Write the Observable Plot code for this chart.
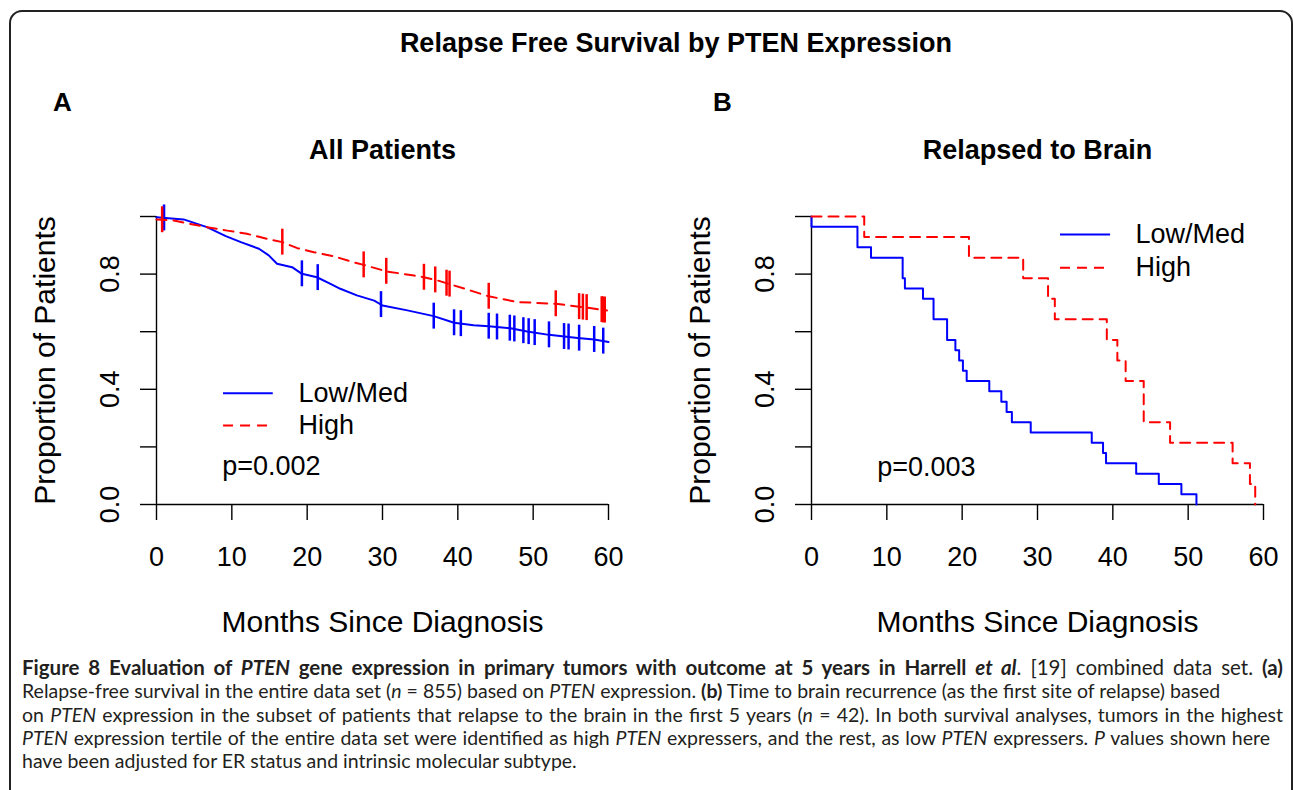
<!DOCTYPE html>
<html><head><meta charset="utf-8">
<script src="https://cdn.jsdelivr.net/npm/d3@7"></script>
<script src="https://cdn.jsdelivr.net/npm/@observablehq/plot@0.6"></script>
<style>
html,body{margin:0;padding:0;background:#fff;width:1293px;height:790px;overflow:hidden;position:relative;font-family:"Liberation Sans",Arial,sans-serif;}
#frame{position:absolute;left:9px;top:10px;width:1284px;height:900px;border:2px solid #222;border-radius:13px;box-sizing:border-box;}
#title{position:absolute;left:276px;width:800px;top:27px;line-height:32px;text-align:center;font-weight:bold;font-size:27px;color:#000;}
#panelA{position:absolute;left:0;top:60px;}
#panelB{position:absolute;left:655px;top:60px;}
#caption{position:absolute;left:22px;top:656px;font-family:Lato,"Open Sans",sans-serif;font-size:19.5px;line-height:23.3px;color:#231f20;}
#caption .ln{white-space:nowrap;display:block;width:max-content;}
#caption .ln.first{font-size:20.5px;}
</style></head><body>
<div id="frame"></div>
<div id="title">Relapse Free Survival by PTEN Expression</div>
<div id="panelA"></div>
<div id="panelB"></div>
<div id="caption">
<span class="ln first" data-w="1261"><b>Figure 8 Evaluation of <i>PTEN</i> gene expression in primary tumors with outcome at 5 years in Harrell <i>et al</i></b>. [19] combined data set. <b>(a)</b></span>
<span class="ln">Relapse-free survival in the entire data set (<i>n</i> = 855) based on <i>PTEN</i> expression. <b>(b)</b> Time to brain recurrence (as the first site of relapse) based</span>
<span class="ln" data-w="1261">on <i>PTEN</i> expression in the subset of patients that relapse to the brain in the first 5 years (<i>n</i> = 42). In both survival analyses, tumors in the highest</span>
<span class="ln" data-w="1248"><i>PTEN</i> expression tertile of the entire data set were identified as high <i>PTEN</i> expressers, and the rest, as low <i>PTEN</i> expressers. <i>P</i> values shown here</span>
<span class="ln">have been adjusted for ER status and intrinsic molecular subtype.</span>
</div>
<script>
// ---------- data ----------
const groups = ["Low/Med", "High"];
const monthTicks = [0, 10, 20, 30, 40, 50, 60];
const propTicks = [0, 0.2, 0.4, 0.6, 0.8, 1.0];
const propTickLabels = [0, 0.4, 0.8];
const panelLetters = ["A", "B"];
const panelTitles = ["All Patients", "Relapsed to Brain"];
const pValues = ["p=0.002", "p=0.003"];
const xLabel = "Months Since Diagnosis";
const yLabel = "Proportion of Patients";

// Panel A: all patients
const timeLowA = [0, 3.6, 6.7, 9.2, 11.2, 13.6, 14.9, 16.0, 18.0, 19.3, 21.3, 23.1, 24.4, 26.6, 28.9, 30.0, 33.3, 36.8, 39.5, 42.1, 44.1, 47.0, 49.2, 52.1, 55.9, 58.1, 60];
const survLowA = [0.997, 0.990, 0.963, 0.932, 0.911, 0.888, 0.865, 0.836, 0.824, 0.801, 0.789, 0.766, 0.749, 0.726, 0.708, 0.691, 0.674, 0.654, 0.631, 0.622, 0.619, 0.612, 0.601, 0.589, 0.578, 0.573, 0.564];
const timeHighA = [0, 2.3, 4.5, 6.7, 9.4, 12.0, 14.7, 16.7, 18.7, 20.9, 23.5, 26.2, 27.5, 30.6, 34.2, 35.5, 37.3, 38.8, 41.2, 44.1, 47.9, 53.0, 56.7, 59.8];
const survHighA = [0.990, 0.986, 0.974, 0.963, 0.951, 0.940, 0.922, 0.911, 0.890, 0.876, 0.862, 0.841, 0.832, 0.809, 0.795, 0.789, 0.778, 0.766, 0.747, 0.723, 0.703, 0.697, 0.685, 0.674];
const censorLowA = [1.0, 19.3, 21.4, 29.8, 36.8, 39.5, 40.4, 44.1, 45.2, 46.9, 47.5, 48.7, 49.4, 50.2, 52.1, 54.1, 54.7, 56.1, 58.1, 59.3];
const censorHighA = [0.75, 16.7, 27.5, 30.5, 35.5, 37.0, 38.5, 38.9, 44.1, 53.0, 56.1, 56.6, 57.1, 59.1, 59.3, 59.5];

// Panel B: relapsed to brain (step curves)
const timeLowB = [0, 0, 6.1, 7.9, 12.1, 12.4, 14.8, 16.2, 18.0, 19.1, 19.6, 20.1, 20.6, 23.6, 25.2, 25.9, 26.6, 29.1, 37.2, 38.7, 39.1, 43.1, 46.1, 49.1, 51.1];
const survLowB = [1.0, 0.964, 0.893, 0.857, 0.786, 0.750, 0.714, 0.643, 0.571, 0.536, 0.500, 0.464, 0.429, 0.393, 0.357, 0.321, 0.286, 0.250, 0.214, 0.179, 0.143, 0.107, 0.071, 0.036, 0.0];
const timeHighB = [0, 7.0, 20.9, 28.1, 31.4, 32.3, 39.2, 40.6, 41.7, 44.1, 47.6, 55.9, 58.2, 58.9];
const survHighB = [1.0, 0.929, 0.857, 0.786, 0.714, 0.643, 0.571, 0.500, 0.429, 0.286, 0.214, 0.143, 0.071, 0.0];

// ---------- helpers ----------
const colors = {"Low/Med": "blue", "High": "red"};
const dashes = {"Low/Med": null, "High": "10,7"};
const rows = (t, s) => t.map((v, i) => ({t: v, s: s[i]}));
function survAt(t, s, x) {
  const i = d3.bisectRight(t, x);
  if (i <= 0) return s[0];
  if (i >= t.length) return s[s.length - 1];
  const f = (x - t[i - 1]) / (t[i] - t[i - 1]);
  return s[i - 1] + f * (s[i] - s[i - 1]);
}
const font = '"Liberation Sans", Arial, sans-serif';
const tickHalf = 0.045;

function panel(cfg) {
  const marks = [];
  marks.push(Plot.ruleY([0], {stroke: "black", strokeWidth: 1.4}));
  marks.push(Plot.ruleX([0], {stroke: "black", strokeWidth: 1.4}));
  marks.push(Plot.axisX({ticks: monthTicks, tickSize: 16, tickFormat: () => "", label: null, strokeWidth: 1.4}));
  marks.push(Plot.axisY({ticks: propTicks, tickSize: 16, tickFormat: () => "", label: null, strokeWidth: 1.4}));
  marks.push(Plot.text(monthTicks, {x: d => d, frameAnchor: "bottom", dy: 53, text: d => String(d), fontSize: 27, lineAnchor: "middle", textAnchor: "middle", fill: "black"}));
  marks.push(Plot.text(propTickLabels, {y: d => d, frameAnchor: "left", dx: -46, rotate: -90, text: d => d.toFixed(1), fontSize: 27, lineAnchor: "middle", textAnchor: "middle", fill: "black"}));
  marks.push(Plot.text([xLabel], {frameAnchor: "bottom", dy: 118, text: d => d, fontSize: 30, lineAnchor: "middle", textAnchor: "middle", fill: "black"}));
  marks.push(Plot.text([yLabel], {frameAnchor: "left", dx: -111, rotate: -90, text: d => d, fontSize: 30, lineAnchor: "middle", textAnchor: "middle", fill: "black"}));
  marks.push(Plot.text([cfg.title], {frameAnchor: "top", dy: -66, text: d => d, fontSize: 27, fontWeight: "bold", lineAnchor: "middle", textAnchor: "middle", fill: "black"}));
  marks.push(Plot.text([cfg.letter], {frameAnchor: "top-left", dx: cfg.letterDx, dy: -114, text: d => d, fontSize: 26, fontWeight: "bold", lineAnchor: "middle", textAnchor: "middle", fill: "black"}));
  cfg.curves.forEach(c => {
    marks.push(Plot.line(rows(c.t, c.s), {x: "t", y: "s", stroke: colors[c.g], strokeWidth: 2, strokeDasharray: dashes[c.g], curve: cfg.curve}));
    if (c.censor) {
      const cr = c.censor.map(x => ({t: x, s: survAt(c.t, c.s, x)}));
      marks.push(Plot.ruleX(cr, {x: "t", y1: d => d.s - tickHalf, y2: d => d.s + tickHalf, stroke: colors[c.g], strokeWidth: 2.5}));
    }
  });
  const L = cfg.legend;
  groups.forEach((g, i) => {
    marks.push(Plot.ruleY([L.y[i]], {x1: L.x1, x2: L.x2, stroke: colors[g], strokeWidth: 2, strokeDasharray: dashes[g]}));
    marks.push(Plot.text([g], {x: L.xText, y: L.y[i], text: d => d, textAnchor: "start", fontSize: 27, lineAnchor: "middle", fill: "black"}));
  });
  marks.push(Plot.text([cfg.p], {x: cfg.pPos[0], y: cfg.pPos[1], text: d => d, textAnchor: "start", fontSize: 27, lineAnchor: "middle", fill: "black"}));

  return Plot.plot({
    width: cfg.width, height: 590,
    marginLeft: 156, marginRight: cfg.width - 156 - 452, marginTop: 156, marginBottom: 146,
    x: {domain: [0, 60], label: null},
    y: {domain: [0, 1], label: null},
    style: {fontFamily: font, background: "transparent", overflow: "visible", color: "black"},
    marks
  });
}

document.getElementById("panelA").append(panel({
  width: 655, letter: panelLetters[0], letterDx: -94, title: panelTitles[0], p: pValues[0],
  curve: "linear",
  curves: [
    {g: "Low/Med", t: timeLowA, s: survLowA, censor: censorLowA},
    {g: "High", t: timeHighA, s: survHighA, censor: censorHighA}
  ],
  legend: {x1: 8.9, x2: 15.5, xText: 18.85, y: [0.3865, 0.274]},
  pPos: [8.72, 0.132]
}));
document.getElementById("panelB").append(panel({
  width: 638, letter: panelLetters[1], letterDx: -89, title: panelTitles[1], p: pValues[1],
  curve: "step-after",
  curves: [
    {g: "Low/Med", t: timeLowB, s: survLowB},
    {g: "High", t: timeHighB, s: survHighB}
  ],
  legend: {x1: 33.05, x2: 39.7, xText: 43.0, y: [0.9375, 0.822]},
  pPos: [8.72, 0.13]
}));

// justify the full caption lines by word spacing (letter spacing if they are too wide)
document.querySelectorAll("#caption .ln[data-w]").forEach(el => {
  const target = +el.dataset.w;
  const w = el.getBoundingClientRect().width;
  const txt = el.textContent;
  const spaces = (txt.match(/ /g) || []).length;
  if (w <= 0) return;
  if (w <= target && spaces > 0) el.style.wordSpacing = ((target - w) / spaces) + "px";
  else el.style.letterSpacing = ((target - w) / txt.length) + "px";
});
</script>
</body></html>
